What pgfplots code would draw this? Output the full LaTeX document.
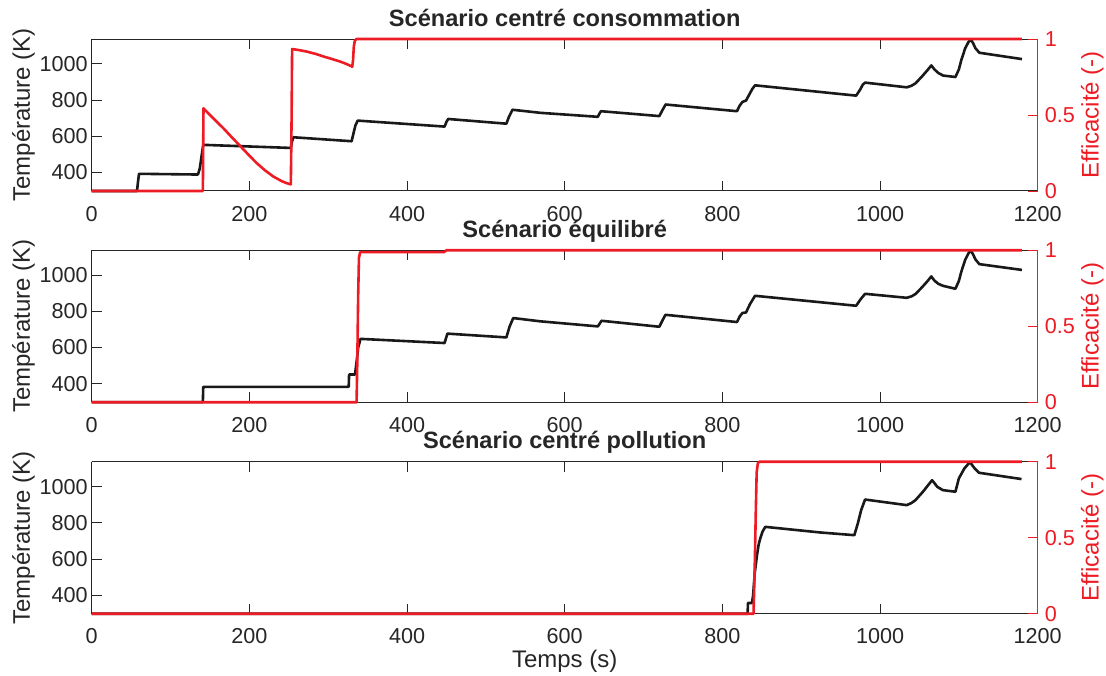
\documentclass[border=0pt]{standalone}
\usepackage{fontspec}
\setmainfont{Liberation Sans}
\usepackage{pgfplots}
\pgfplotsset{compat=1.18}
\definecolor{mred}{rgb}{0.93,0.11,0.14}
\definecolor{axgray}{rgb}{0.15,0.15,0.15}
\definecolor{lblack}{rgb}{0.1,0.1,0.1}
\pgfplotsset{
  common/.style={
    scale only axis, width=473pt, height=76pt,
    xmin=0, xmax=1200,
    tick align=inside, major tick length=5pt,
    /pgf/number format/assume math mode=true,
    /pgf/number format/1000 sep={},
    tick label style={font=\fontsize{10.8}{13}\selectfont},
    clip=false,
  },
  leftax/.style={
    common,
    ymin=298, ymax=1138,
    axis x line=box, axis y line*=left,
    axis line style={-, axgray, line width=0.5pt},
    every tick/.style={axgray, line width=0.5pt},
    xtick={0,200,...,1200}, ytick={400,600,800,1000},
    tick label style={text=axgray},
    xticklabel style={yshift=-4pt},
    yticklabel style={xshift=1.5pt},
    ylabel={Température (K)},
    ylabel style={at={(axis description cs:-0.0653,0.5)}, anchor=base, font=\fontsize{12}{14}\selectfont, text=axgray},
    title style={at={(axis description cs:0.5,1)}, anchor=base, yshift=0.5pt, font=\bfseries\fontsize{11.8}{14}\selectfont, text=axgray},
    xlabel style={at={(axis description cs:0.5,0)}, anchor=base, yshift=-27pt, font=\fontsize{12}{14}\selectfont, text=axgray},
  },
  rightax/.style={
    common,
    ymin=0, ymax=1,
    axis x line=none, axis y line*=right,
    axis line style={-, mred, line width=0.5pt},
    every tick/.style={mred, line width=0.5pt},
    ytick={0,0.5,1},
    tick label style={text=mred},
    ylabel={Efficacité (-)},
    ylabel style={at={(axis description cs:1.0644,0.5)}, anchor=base, font=\fontsize{12}{14}\selectfont, text=mred},
  },
  tline/.style={lblack, line width=1.3pt, line join=round},
  eline/.style={mred, line width=1.3pt, line join=round},
}
\begin{document}
\begin{tikzpicture}
\useasboundingbox (0,0) rectangle (553pt,-337.5pt);
% ---------- Top ----------
\begin{axis}[leftax, at={(45.85pt,-19.5pt)}, anchor=north west, title={Scénario centré consommation}]
\addplot[tline] coordinates {(0,298) (57.5,298) (58.5,340) (60,393) (134.7,389) (137,420) (139,480) (141.5,553) (252.6,536) (254,570) (255.8,595) (329.7,573) (332,615) (334.5,660) (337.4,687) (447.6,654) (450,680) (452.2,696) (526,670) (529,705) (533.8,747) (569,730) (642,708) (644,725) (646,739) (720,712) (724,745) (728,776) (818.5,739) (822,770) (825.4,790) (830,798) (834,830) (838,862) (841.4,882) (969.7,825) (975,860) (978,885) (981,897) (1033.8,871) (1040,880) (1045,893) (1053,930) (1060,965) (1065,992) (1069,970) (1074,950) (1080,936) (1095.6,928) (1100,970) (1103,1020) (1108,1087) (1112,1120) (1115,1136) (1118,1115) (1121,1087) (1126,1062) (1180,1027)};
\end{axis}
\begin{axis}[rightax, at={(45.85pt,-19.5pt)}, anchor=north west]
\addplot[eline] coordinates {(0,0) (141,0) (141.8,0.544) (155,0.474) (167,0.413) (178,0.352) (188,0.298) (199,0.238) (209,0.185) (220,0.135) (230.5,0.095) (241,0.065) (247,0.052) (252.6,0.044) (253.6,0.5) (254.2,0.934) (263,0.927) (273,0.917) (284,0.902) (294,0.885) (305,0.868) (315,0.852) (323,0.836) (330.5,0.818) (331.5,0.86) (332.5,0.95) (333.8,0.99) (336,1) (1180,1)};
\end{axis}
% ---------- Middle ----------
\begin{axis}[leftax, at={(45.85pt,-125.1pt)}, anchor=north west, title={Scénario équilibré}]
\addplot[tline] coordinates {(0,298) (141,298) (141.5,383) (326,383) (326.5,451) (334,451) (336,520) (338,600) (341,648) (447.6,625) (451.2,677) (526,656) (530,715) (534.7,763) (569,745) (642.1,717) (646.7,748) (720,715) (724,750) (727.8,781) (818.5,741) (822,772) (825.4,791) (830,794) (835,840) (841.4,886) (969.7,831) (975,865) (981,897) (1033.8,875) (1040,883) (1045,896) (1053,932) (1060,966) (1065,993) (1069,970) (1074,952) (1080,941) (1095.6,925) (1100,968) (1103,1018) (1108,1085) (1112,1120) (1115,1136) (1118,1115) (1121,1087) (1126,1061) (1180,1029)};
\end{axis}
\begin{axis}[rightax, at={(45.85pt,-125.1pt)}, anchor=north west]
\addplot[eline] coordinates {(0,0) (336,0) (337,0.3) (338,0.7) (339,0.95) (340.5,0.987) (447,0.987) (450,1) (1180,1)};
\end{axis}
% ---------- Bottom ----------
\begin{axis}[leftax, at={(45.85pt,-230.85pt)}, anchor=north west, title={Scénario centré pollution}, xlabel={Temps (s)}]
\addplot[tline] coordinates {(0,298) (832,298) (832.5,357) (837.5,357) (839,400) (841,520) (843.9,621) (846,680) (848,713) (851,752) (854.4,778) (924,747) (967.4,732) (972,800) (976,870) (981,929) (1033.8,898) (1040,910) (1045,926) (1054.4,972) (1066,1036) (1072.7,999) (1079.6,981) (1095.6,972) (1100,1046) (1107,1101) (1114,1136) (1120,1101) (1125.4,1077) (1179.5,1042)};
\end{axis}
\begin{axis}[rightax, at={(45.85pt,-230.85pt)}, anchor=north west]
\addplot[eline] coordinates {(0,0) (839.5,0) (841,0.3) (842.5,0.7) (843.5,0.93) (845,0.99) (847,1) (1180,1)};
\end{axis}
\end{tikzpicture}
\end{document}
